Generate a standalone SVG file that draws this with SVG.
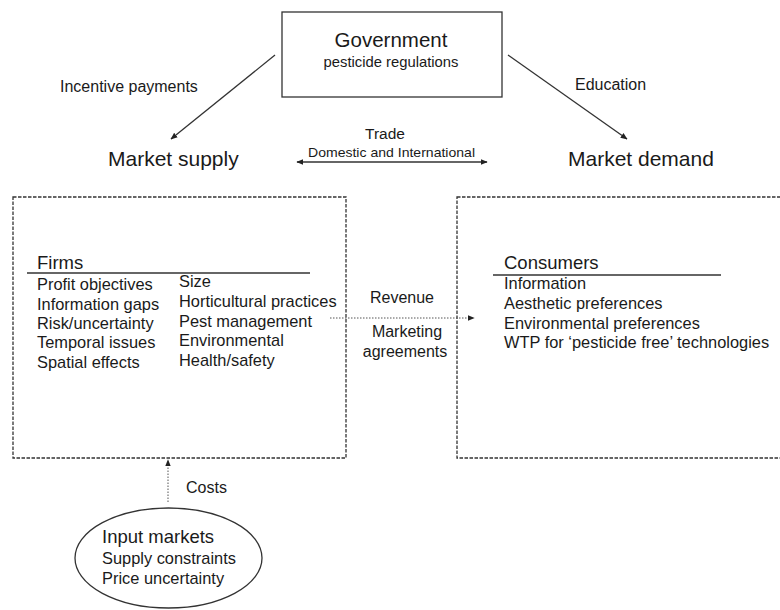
<svg xmlns="http://www.w3.org/2000/svg" width="780" height="610" viewBox="0 0 780 610">
<defs>
<marker id="ah" viewBox="0 0 10 10" refX="9" refY="5" markerWidth="7" markerHeight="7" orient="auto-start-reverse" markerUnits="userSpaceOnUse"><path d="M0,1 L10,5 L0,9 z" fill="#222"/></marker>
<style>
text{font-family:"Liberation Sans",Arial,sans-serif;fill:#1a1a1a}
.solid{stroke:#333;stroke-width:1.3;fill:none}
.dash{stroke:#333;stroke-width:1.3;fill:none;stroke-dasharray:3.5 1.5}
.dot{stroke:#555;stroke-width:1;fill:none;stroke-dasharray:1.5 1.5}
.t16{font-size:16.4px}
.t21{font-size:21px}
</style>
</defs>
<rect width="780" height="610" fill="#fff"/>
<g id="government">
<rect x="282" y="12" width="220" height="85" class="solid"/>
<text x="391" y="47" text-anchor="middle" style="font-size:20.5px">Government</text>
<text x="391" y="67" text-anchor="middle" style="font-size:14.8px">pesticide regulations</text>
</g>
<g id="market-supply"><text x="108" y="166" class="t21">Market supply</text></g>
<g id="market-demand"><text x="568" y="166" class="t21">Market demand</text></g>
<g id="firms">
<rect x="13" y="197" width="333" height="261" class="dash"/>
<text x="37" y="269" style="font-size:18.5px">Firms</text>
<line x1="27" y1="273" x2="310" y2="273" class="solid"/>
<text x="37" y="290" class="t16">Profit objectives</text>
<text x="37" y="310" class="t16">Information gaps</text>
<text x="37" y="329" class="t16">Risk/uncertainty</text>
<text x="37" y="348" class="t16">Temporal issues</text>
<text x="37" y="368" class="t16">Spatial effects</text>
<text x="179" y="287" class="t16">Size</text>
<text x="179" y="307" class="t16">Horticultural practices</text>
<text x="179" y="327" class="t16">Pest management</text>
<text x="179" y="346" class="t16">Environmental</text>
<text x="179" y="366" class="t16">Health/safety</text>
</g>
<g id="consumers">
<rect x="457" y="197" width="335" height="261" class="dash"/>
<text x="504" y="269" style="font-size:18.5px">Consumers</text>
<line x1="493" y1="275" x2="721" y2="275" class="solid"/>
<text x="504" y="289" class="t16">Information</text>
<text x="504" y="309" class="t16">Aesthetic preferences</text>
<text x="504" y="329" class="t16">Environmental preferences</text>
<text x="504" y="348" class="t16">WTP for ‘pesticide free’ technologies</text>
</g>
<g id="input-markets">
<ellipse cx="168.5" cy="558" rx="93.5" ry="50" class="solid"/>
<text x="102" y="543" style="font-size:18.5px">Input markets</text>
<text x="102" y="564" class="t16">Supply constraints</text>
<text x="102" y="584" class="t16">Price uncertainty</text>
</g>
<g id="connectors">
<line x1="275" y1="55" x2="171" y2="139" class="solid" marker-end="url(#ah)"/>
<line x1="508" y1="55" x2="627" y2="139" class="solid" marker-end="url(#ah)"/>
<line x1="297" y1="162" x2="487" y2="162" class="solid" marker-start="url(#ah)" marker-end="url(#ah)"/>
<line x1="330" y1="318" x2="474" y2="318" class="dot" marker-end="url(#ah)"/>
<line x1="168" y1="502" x2="168" y2="460" class="dot" marker-end="url(#ah)"/>
</g>
<g id="labels">
<text x="60" y="92" style="font-size:16px">Incentive payments</text>
<text x="575" y="90" style="font-size:16px">Education</text>
<text x="385" y="139" text-anchor="middle" style="font-size:15.5px">Trade</text>
<text x="308" y="157" style="font-size:13.5px" textLength="167" lengthAdjust="spacingAndGlyphs">Domestic and International</text>
<text x="402" y="303" text-anchor="middle" style="font-size:16px">Revenue</text>
<text x="407" y="337" text-anchor="middle" style="font-size:16px">Marketing</text>
<text x="405" y="357" text-anchor="middle" style="font-size:16px">agreements</text>
<text x="186" y="493" style="font-size:16px">Costs</text>
</g>
</svg>
